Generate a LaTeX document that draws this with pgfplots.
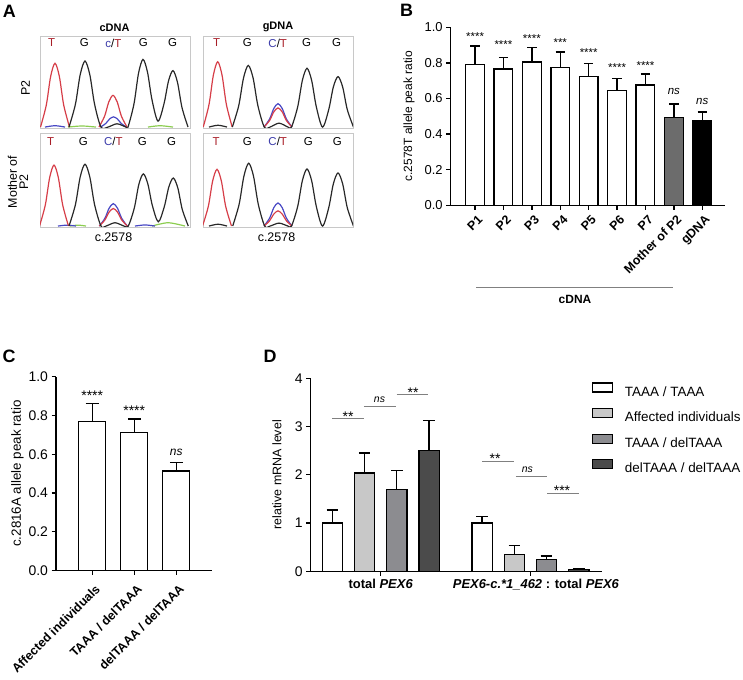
\documentclass[border=0pt]{standalone}
\usepackage{fontspec}
\setmainfont{Liberation Sans}
\usepackage{pgfplots}
\pgfplotsset{compat=1.18}
\newcommand\fs[1]{\fontsize{#1}{#1}\selectfont}

% trace and bar colours
\definecolor{tred}{RGB}{214,62,72}
\definecolor{tblue}{RGB}{72,72,196}
\definecolor{tblack}{RGB}{40,40,40}
\definecolor{tgreen}{RGB}{140,205,80}
\definecolor{lred}{RGB}{168,30,40}
\definecolor{lblue}{RGB}{60,60,170}
\definecolor{boxgray}{RGB}{200,200,200}
\definecolor{mothergray}{RGB}{108,108,108}
\definecolor{lightbar}{RGB}{200,200,200}
\definecolor{midbar}{RGB}{140,140,144}
\definecolor{darkbar}{RGB}{75,75,75}

\pgfplotsset{
  prism/.style={
    scale only axis, anchor=south west, axis lines*=left,
    enlargelimits=false, clip=false,
    axis line style={line width=1.3bp, black},
    tick style={line width=1.3bp, black},
    tick align=outside, major tick length=4.5bp,
    /pgf/number format/assume math mode=true,
    ticklabel style={font=\fs{13}},
    ymin=0,
    error bars/y dir=plus, error bars/y explicit,
    error bars/error mark=-,
    error bars/error bar style={line width=1.3bp, black},
  },
  chrom/.style={
    scale only axis, anchor=south west, width=150bp,
    xmin=0, xmax=150, ymin=-0.01, ymax=1, enlargelimits=false,
    ticks=none, axis line style={boxgray, line width=0.8bp},
  },
  bars/.style={draw=black, line width=1.3bp},
  tr/.style={line width=1.2bp, smooth},
}

\begin{document}
\begin{tikzpicture}[x=1bp, y=1bp]
\useasboundingbox (0,0) rectangle (743,680);

% ---------------- A: chromatograms ----------------
% P2, cDNA
\begin{axis}[chrom, at={(40bp,552bp)}, height=92bp]
\addplot[tgreen, tr] coordinates {(28,0) (42,0.012) (56,0)};
\addplot[tgreen, tr] coordinates {(108,0) (120,0.015) (133,0)};
\addplot[tblue, tr] coordinates {(5,0) (15,0.015) (25,0)};
\addplot[tblue, tr] coordinates {(60.5,0) (65.7,0.039) (69.6,0.089) (73.5,0.112) (77.4,0.089) (81.3,0.039) (86.5,0)};
\addplot[tred, tr] coordinates {(0.5,0) (6.3,0.242) (10.65,0.556) (15,0.70) (19.35,0.556) (23.7,0.242) (29.5,0)};
\addplot[tred, tr] coordinates {(59,0) (64.6,0.120) (68.8,0.276) (73,0.348) (77.2,0.276) (81.4,0.120) (87,0)};
\addplot[tblack, tr] coordinates {(29,0) (35.4,0.25) (40.2,0.576) (45,0.725) (49.8,0.576) (54.6,0.25) (61,0)
  (68,0) (77,0.036) (86,0)
  (88,0) (94,0.256) (98.5,0.59) (103,0.743) (107.5,0.603) (112,0.299) (118,0.065)
  (124,0.256) (128.5,0.506) (133,0.62) (137.5,0.49) (142,0.214) (148,0)};
\end{axis}
% P2, gDNA
\begin{axis}[chrom, at={(203bp,552bp)}, height=92bp]
\addplot[tblue, tr] coordinates {(61,0) (66.6,0.089) (70.8,0.204) (75,0.257) (79.2,0.204) (83.4,0.089) (89,0)};
\addplot[tred, tr] coordinates {(0.2,0) (6,0.247) (10.35,0.569) (14.7,0.717) (19.05,0.569) (23.4,0.247) (29.2,0)};
\addplot[tred, tr] coordinates {(61,0) (66.6,0.072) (70.8,0.167) (75,0.21) (79.2,0.167) (83.4,0.072) (89,0)};
\addplot[tblack, tr] coordinates {(6,0) (15,0.02) (24,0)};
\addplot[tblack, tr] coordinates {(29.3,0) (35.7,0.234) (40.5,0.538) (45.3,0.677) (50.1,0.538) (54.9,0.234) (61.3,0)
  (67,0) (76,0.043) (85,0)
  (88.5,0) (94.7,0.223) (99.35,0.512) (104,0.645) (108.65,0.512) (113.3,0.223) (119.5,0)
  (125.7,0.191) (130.35,0.44) (135,0.554) (139.65,0.44) (144.3,0.191) (150.5,0)};
\end{axis}
% Mother of P2, cDNA
\begin{axis}[chrom, at={(40bp,453bp)}, height=93.3bp]
\addplot[tgreen, tr] coordinates {(30,0) (38,0.01) (46,0)};
\addplot[tgreen, tr] coordinates {(112,0) (128,0.036) (145,0)};
\addplot[tblue, tr] coordinates {(18,0) (27,0.01) (36,0)};
\addplot[tblue, tr] coordinates {(95,0) (105,0.012) (115,0)};
\addplot[tblue, tr] coordinates {(59.3,0) (64.9,0.084) (69.1,0.193) (73.3,0.243) (77.5,0.193) (81.7,0.084) (87.3,0)};
\addplot[tred, tr] coordinates {(-0.5,0) (5.3,0.228) (9.65,0.524) (14,0.66) (18.35,0.524) (22.7,0.228) (28.5,0)};
\addplot[tred, tr] coordinates {(59.3,0) (64.9,0.066) (69.1,0.151) (73.3,0.19) (77.5,0.151) (81.7,0.066) (87.3,0)};
\addplot[tblack, tr] coordinates {(29,0) (35.4,0.231) (40.2,0.532) (45,0.67) (49.8,0.532) (54.6,0.231) (61,0)
  (66,0) (75,0.036) (84,0)
  (88.3,0) (94.3,0.195) (98.8,0.449) (103.3,0.565) (107.8,0.458) (112.3,0.225) (118.3,0.046)
  (124.3,0.21) (128.8,0.422) (133.3,0.52) (137.8,0.413) (142.3,0.179) (148.3,0)};
\end{axis}
% Mother of P2, gDNA
\begin{axis}[chrom, at={(203bp,453bp)}, height=93.3bp]
\addplot[tblue, tr] coordinates {(61,0) (66.6,0.086) (70.8,0.199) (75,0.25) (79.2,0.199) (83.4,0.086) (89,0)};
\addplot[tred, tr] coordinates {(-0.5,0) (5.3,0.212) (9.65,0.488) (14,0.614) (18.35,0.488) (22.7,0.212) (28.5,0)};
\addplot[tred, tr] coordinates {(61,0) (66.6,0.057) (70.8,0.13) (75,0.164) (79.2,0.13) (83.4,0.057) (89,0)};
\addplot[tblack, tr] coordinates {(6,0) (15,0.02) (24,0)};
\addplot[tblack, tr] coordinates {(29.7,0) (36.1,0.235) (40.9,0.54) (45.7,0.68) (50.5,0.54) (55.3,0.235) (61.7,0)
  (67,0) (76,0.032) (85,0)
  (88.5,0) (94.7,0.213) (99.35,0.491) (104,0.618) (108.65,0.491) (113.3,0.213) (119.5,0)
  (125.7,0.198) (130.35,0.457) (135,0.575) (139.65,0.457) (144.3,0.198) (150.5,0)};
\end{axis}

% base letters
\begin{scope}[every node/.style={font=\fs{11.5}}]
\foreach \x/\y in {51.7/637, 216.7/637, 50.7/538.3, 216/538.3} \node[text=lred] at (\x,\y) {T};
\foreach \x/\y in {84.3/637, 143.3/637, 172.7/637, 247.3/637, 306.7/637, 336.7/637,
                   83.3/538.3, 142.3/538.3, 171.7/538.3, 247.3/538.3, 308.3/538.3, 337.3/538.3}
  \node at (\x,\y) {G};
\node at (113.3,637) {\textcolor{lblue}{c}/\textcolor{lred}{T}};
\node at (277.7,637) {\textcolor{lblue}{C}/\textcolor{lred}{T}};
\node at (113.3,538.3) {\textcolor{lblue}{C}/\textcolor{lred}{T}};
\node at (277.7,538.3) {\textcolor{lblue}{C}/\textcolor{lred}{T}};
\end{scope}
\node[font=\bfseries\fs{11}] at (114.5,652.7) {cDNA};
\node[font=\bfseries\fs{11}] at (278,652.7) {gDNA};
\node[font=\fs{12.5}, rotate=90] at (25.5,592) {P2};
\node[font=\fs{12.5}, rotate=90, align=center] at (18,498) {Mother of\\[-1pt]P2};
\node[font=\fs{12.5}] at (113.5,442.5) {c.2578};
\node[font=\fs{12.5}] at (276.5,442.5) {c.2578};

% ---------------- B ----------------
\begin{axis}[prism, ybar, bar shift=0pt, at={(450.7bp,474.7bp)},
  width=274.3bp, height=178bp, bar width=18.7bp,
  xmin=-0.857, xmax=8.8, ymax=1,
  ytick={0,0.2,0.4,0.6,0.8,1},
  yticklabel style={/pgf/number format/.cd, fixed, fixed zerofill, precision=1},
  xtick={0,...,8},
  xticklabels={P1,P2,P3,P4,P5,P6,P7,Mother of P2,gDNA},
  xticklabel style={rotate=45, anchor=north east, inner sep=1.5bp, yshift=-3bp, font=\bfseries\fs{12.5}},
  ylabel={c.2578T allele peak ratio},
  ylabel style={font=\fs{12}, at={(axis description cs:-0.152,0.5)}, anchor=center},
  error bars/error mark options={rotate=90, line width=1.3bp, mark size=4.7bp, black},
]
\addplot[bars, fill=white] coordinates {
  (0,0.792) +- (0,0.103) (1,0.766) +- (0,0.064) (2,0.805) +- (0,0.081)
  (3,0.773) +- (0,0.088) (4,0.723) +- (0,0.073) (5,0.644) +- (0,0.068)
  (6,0.676) +- (0,0.062)};
\addplot[bars, fill=mothergray] coordinates {(7,0.494) +- (0,0.075)};
\addplot[bars, fill=black] coordinates {(8,0.478) +- (0,0.046)};
\begin{scope}[every node/.style={font=\fs{11.5}, anchor=base, yshift=-6.7bp}]
\node at (axis cs:0,0.966) {****};
\node at (axis cs:1,0.918) {****};
\node at (axis cs:2,0.953) {****};
\node at (axis cs:3,0.929) {***};
\node at (axis cs:4,0.873) {****};
\node at (axis cs:5,0.792) {****};
\node at (axis cs:6,0.803) {****};
\end{scope}
\node[font=\itshape\fs{11.5}, anchor=base, yshift=-3bp] at (axis cs:7,0.639) {ns};
\node[font=\itshape\fs{11.5}, anchor=base, yshift=-3bp] at (axis cs:8,0.584) {ns};
\end{axis}
\draw[gray, line width=0.8bp] (476,392.7) -- (672.7,392.7);
\node[font=\bfseries\fs{12}] at (575,380.7) {cDNA};

% ---------------- C ----------------
\begin{axis}[prism, ybar, bar shift=0pt, at={(56bp,109.5bp)},
  width=156bp, height=193.8bp, bar width=27bp,
  xmin=-0.862, xmax=2.85, ymax=1,
  ytick={0,0.2,0.4,0.6,0.8,1},
  ticklabel style={font=\fs{14}},
  yticklabel style={/pgf/number format/.cd, fixed, fixed zerofill, precision=1},
  xtick={0,1,2},
  xticklabels={Affected individuals, TAAA / delTAAA, delTAAA / delTAAA},
  xticklabel style={rotate=45, anchor=north east, inner sep=1.5bp, xshift=-3bp, yshift=-6bp, font=\bfseries\fs{12.5}},
  ylabel={c.2816A allele peak ratio},
  ylabel style={font=\fs{13.4}, at={(axis description cs:-0.247,0.5)}, anchor=center},
  error bars/error mark options={rotate=90, line width=1.3bp, mark size=6.5bp, black},
]
\addplot[bars, fill=white] coordinates {
  (0,0.767) +- (0,0.095) (1,0.712) +- (0,0.069) (2,0.513) +- (0,0.043)};
\node[font=\fs{14}, anchor=base, yshift=-8.1bp] at (axis cs:0,0.918) {****};
\node[font=\fs{14}, anchor=base, yshift=-8.1bp] at (axis cs:1,0.843) {****};
\node[font=\itshape\fs{12}, anchor=base, yshift=-3.1bp] at (axis cs:2,0.61) {ns};
\end{axis}

% ---------------- D ----------------
\begin{axis}[prism, ybar=11.9bp, bar width=20.3bp, at={(310.7bp,108.7bp)},
  width=291bp, height=193bp,
  xmin=0.5324, xmax=2.476, ymax=4,
  ytick={0,1,2,3,4},
  ticklabel style={font=\fs{14}},
  xtick={1,2},
  xticklabels={total \textit{PEX6}, \hspace*{11bp}\textit{PEX6-c.*1\_462} : total \textit{PEX6}},
  xticklabel style={font=\bfseries\fs{13}},
  ylabel={relative mRNA level},
  ylabel style={font=\fs{12.5}, at={(axis description cs:-0.116,0.5)}, anchor=center},
  error bars/error mark options={rotate=90, line width=1.3bp, mark size=5.8bp, black},
  legend image code/.code={\draw[#1, draw=black, line width=1.3bp] (0bp,0.5bp) rectangle (20bp,9.5bp);},
  legend cell align=left,
  legend style={at={(0.9655,0.9785)}, anchor=north west, draw=none, fill=none,
    inner sep=0pt, outer sep=0pt, row sep=8.9bp, column sep=12bp,
    nodes={font=\fs{13.5}, inner sep=0pt, text height=10bp, text depth=3bp}},
]
\addplot[bars, fill=white] coordinates {(1,1.00) +- (0,0.27) (2,1.00) +- (0,0.14)};
\addplot[bars, fill=lightbar] coordinates {(1,2.04) +- (0,0.41) (2,0.35) +- (0,0.18)};
\addplot[bars, fill=midbar] coordinates {(1,1.70) +- (0,0.39) (2,0.24) +- (0,0.08)};
\addplot[bars, fill=darkbar] coordinates {(1,2.51) +- (0,0.61) (2,0.03) +- (0,0.03)};
\legend{TAAA / TAAA, Affected individuals, TAAA / delTAAA, delTAAA / delTAAA}
\begin{scope}[every path/.style={gray, line width=0.8bp}]
\draw (axis cs:0.677,3.16) -- (axis cs:0.886,3.16);
\draw (axis cs:0.888,3.41) -- (axis cs:1.100,3.41);
\draw (axis cs:1.107,3.67) -- (axis cs:1.318,3.67);
\draw (axis cs:1.679,2.28) -- (axis cs:1.888,2.28);
\draw (axis cs:1.902,1.97) -- (axis cs:2.111,1.97);
\draw (axis cs:2.111,1.62) -- (axis cs:2.323,1.62);
\end{scope}
\begin{scope}[every node/.style={font=\fs{14}, anchor=base, yshift=-8.1bp}]
\node at (axis cs:0.782,3.27) {**};
\node at (axis cs:1.216,3.77) {**};
\node at (axis cs:1.764,2.41) {**};
\node at (axis cs:2.211,1.74) {***};
\end{scope}
\node[font=\itshape\fs{10.5}, anchor=base, yshift=-2.7bp] at (axis cs:0.992,3.55) {ns};
\node[font=\itshape\fs{10.5}, anchor=base, yshift=-2.7bp] at (axis cs:1.98,2.11) {ns};
\end{axis}

% panel letters
\begin{scope}[every node/.style={font=\bfseries\fs{18}}]
\node at (9.3,668.3) {A};
\node at (406.7,669.2) {B};
\node at (9.2,323.3) {C};
\node at (270,323.3) {D};
\end{scope}
\end{tikzpicture}
\end{document}
